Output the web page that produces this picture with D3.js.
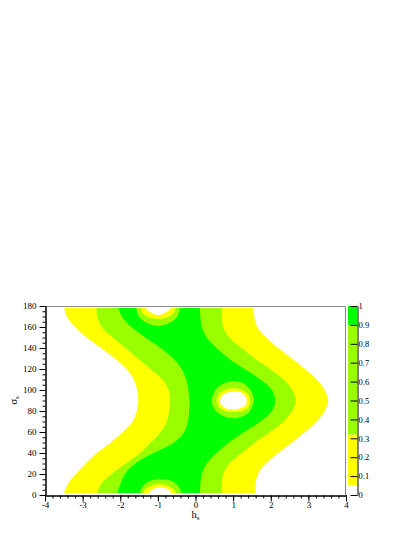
<!DOCTYPE html>
<html>
<head>
<meta charset="utf-8">
<script src="https://cdn.jsdelivr.net/npm/d3@7"></script>
<style>
  body { margin: 0; background: #fff; }
  text { font-family: "Liberation Serif", "DejaVu Serif", serif; }
</style>
</head>
<body>
<div id="chart"></div>
<script>
// Tick labels and contour levels
const hTicks = [-4, -3, -2, -1, 0, 1, 2, 3, 4];
const sigmaTicks = [0, 20, 40, 60, 80, 100, 120, 140, 160, 180];
const levelTicks = [0, 0.1, 0.2, 0.3, 0.4, 0.5, 0.6, 0.7, 0.8, 0.9, 1];
const levels = [0, 0.05, 0.32, 0.9, 1];
const levelColors = ["#ffffff", "#ffff00", "#99ff00", "#00ff00"];

// Contour edges: h value of each level line at each sigma row
const sigmaRows   = [2, 10, 20, 30, 40, 50, 60, 70, 80, 90, 100, 110, 120, 130, 140, 150, 160, 170, 178];
const edge005Left = [-3.49, -3.40, -3.18, -2.92, -2.62, -2.25, -1.93, -1.67, -1.56, -1.52, -1.55, -1.64, -1.83, -2.14, -2.51, -2.89, -3.20, -3.42, -3.49];
const edge005Right = [1.60, 1.60, 1.66, 1.87, 2.20, 2.56, 2.91, 3.22, 3.43, 3.53, 3.43, 3.22, 2.91, 2.56, 2.20, 1.87, 1.64, 1.56, 1.54];
const edge032Left = [-2.61, -2.52, -2.23, -1.85, -1.47, -1.19, -0.92, -0.76, -0.70, -0.68, -0.71, -0.88, -1.20, -1.53, -1.86, -2.20, -2.49, -2.61, -2.63];
const edge032Right = [0.70, 0.70, 0.74, 0.90, 1.23, 1.58, 1.98, 2.34, 2.57, 2.67, 2.57, 2.34, 1.98, 1.58, 1.23, 0.90, 0.74, 0.70, 0.70];
const edge09Left  = [-2.08, -2.00, -1.88, -1.60, -1.12, -0.57, -0.30, -0.20, -0.17, -0.16, -0.19, -0.25, -0.37, -0.59, -0.93, -1.33, -1.70, -1.96, -2.05];
const edge09Right = [0.12, 0.13, 0.17, 0.30, 0.56, 0.89, 1.30, 1.73, 2.03, 2.12, 2.03, 1.73, 1.30, 0.89, 0.56, 0.30, 0.17, 0.13, 0.12];

// Dips below the top level: [h, sigma] outlines (parts outside the data area get clipped)
const holeTop032 = [[-1.58, 180], [-1.53, 172], [-1.35, 165], [-1.0, 161], [-0.66, 164.5], [-0.47, 171], [-0.41, 180], [-0.47, 189], [-1.0, 199], [-1.53, 189]];
const holeTop005 = [[-1.47, 180], [-1.40, 173], [-1.22, 169], [-1.0, 167.6], [-0.76, 169], [-0.59, 173], [-0.52, 180], [-0.60, 187], [-1.0, 192], [-1.40, 187]];
const holeTop000 = [[-1.33, 180], [-1.25, 175], [-1.0, 171.4], [-0.74, 175], [-0.63, 180], [-0.74, 185], [-1.0, 189], [-1.25, 185]];
const holeBot032 = [[-1.49, 0], [-1.40, 8], [-1.20, 13.5], [-0.93, 15], [-0.65, 13.5], [-0.45, 8], [-0.37, 0], [-0.45, -8], [-0.93, -15], [-1.40, -8]];
const holeBot005 = [[-1.40, 0], [-1.30, 6.5], [-0.95, 10.5], [-0.62, 6.5], [-0.50, 0], [-0.62, -6], [-0.95, -10], [-1.30, -6]];
const holeBot000 = [[-1.26, 0], [-1.15, 5], [-0.94, 7.3], [-0.72, 5], [-0.63, 0], [-0.72, -5], [-0.94, -7], [-1.15, -5]];
const holeMid032 = [[0.43, 89], [0.55, 101], [0.80, 107], [1.05, 108.3], [1.33, 105], [1.52, 96], [1.54, 88], [1.40, 78], [1.10, 73.3], [0.75, 75], [0.52, 81]];
const holeMid005 = [[0.56, 90], [0.68, 98], [0.95, 101.6], [1.25, 100], [1.43, 94], [1.43, 85], [1.25, 80], [0.95, 79.3], [0.68, 82]];
const holeMid000 = [[0.65, 90], [0.74, 96], [0.98, 98.4], [1.24, 97], [1.36, 91], [1.32, 85], [1.10, 81.6], [0.85, 82], [0.70, 85]];

const width = 415, height = 537;
const plot = { left: 45, right: 346, top: 306, bottom: 495 };
const serif = "'Liberation Serif', 'DejaVu Serif', serif";

const svg = d3.select("#chart").append("svg")
  .attr("width", width)
  .attr("height", height);

const x = d3.scaleLinear().domain([-4, 4]).range([plot.left, plot.right]);
const y = d3.scaleLinear().domain([0, 180]).range([plot.bottom, plot.top]);

// clip the filled contours to the sampled sigma range
svg.append("clipPath").attr("id", "data-clip")
  .append("rect")
  .attr("x", x(-4)).attr("y", y(sigmaRows[sigmaRows.length - 1]))
  .attr("width", x(4) - x(-4))
  .attr("height", y(sigmaRows[0]) - y(sigmaRows[sigmaRows.length - 1]));

const fills = svg.append("g").attr("clip-path", "url(#data-clip)");

const band = (left, right) => d3.area()
  .y((d, i) => y(sigmaRows[i]))
  .x0((d, i) => x(left[i]))
  .x1((d, i) => x(right[i]))
  .curve(d3.curveCatmullRom)(sigmaRows);

fills.append("path").attr("d", band(edge005Left, edge005Right)).attr("fill", levelColors[1]);
fills.append("path").attr("d", band(edge032Left, edge032Right)).attr("fill", levelColors[2]);
fills.append("path").attr("d", band(edge09Left, edge09Right)).attr("fill", levelColors[3]);

const ring = d3.line()
  .x(d => x(d[0]))
  .y(d => y(d[1]))
  .curve(d3.curveCatmullRomClosed);

[[holeTop032, holeTop005, holeTop000], [holeBot032, holeBot005, holeBot000], [holeMid032, holeMid005, holeMid000]]
  .forEach(set => {
    fills.append("path").attr("d", ring(set[0])).attr("fill", levelColors[2]);
    fills.append("path").attr("d", ring(set[1])).attr("fill", levelColors[1]);
    fills.append("path").attr("d", ring(set[2])).attr("fill", levelColors[0]);
  });

// frame on top and right
svg.append("path")
  .attr("d", `M${plot.left},${plot.top + 0.5}H${plot.right - 0.5}V${plot.bottom}`)
  .attr("fill", "none")
  .attr("stroke", "#888")
  .attr("stroke-width", 1);

// x axis: minor then major ticks
const xAxisG = svg.append("g").attr("transform", `translate(0,${plot.bottom + 0.5})`);
xAxisG.append("g").call(d3.axisBottom(x).ticks(40).tickSize(3).tickSizeOuter(0).tickFormat(""));
xAxisG.append("g").call(d3.axisBottom(x).tickValues(hTicks).tickSize(6).tickSizeOuter(0).tickPadding(0).tickFormat(d => String(d)));

const yAxisG = svg.append("g").attr("transform", `translate(${plot.left + 0.5},0)`);
yAxisG.append("g").call(d3.axisLeft(y).ticks(36).tickSize(3).tickSizeOuter(0).tickFormat(""));
yAxisG.append("g").call(d3.axisLeft(y).tickValues(sigmaTicks).tickSize(6).tickSizeOuter(0).tickPadding(3).tickFormat(d => String(d)));

svg.selectAll("g").attr("font-family", serif);
svg.selectAll(".tick text").attr("font-size", 9).attr("fill", "#000").style("font-family", serif);
svg.selectAll(".domain, .tick line").attr("stroke", "#000");

// axis titles
const xTitle = svg.append("text")
  .attr("x", x(0))
  .attr("y", 518)
  .attr("text-anchor", "middle")
  .attr("font-size", 10.5);
xTitle.append("tspan").text("h");
xTitle.append("tspan").attr("font-size", 7).attr("dy", 2).text("s");

const yTitle = svg.append("text")
  .attr("transform", `translate(17,${y(90)}) rotate(-90)`)
  .attr("text-anchor", "middle")
  .attr("font-size", 11);
yTitle.append("tspan").text("σ");
yTitle.append("tspan").attr("font-size", 7).attr("dy", 2).text("s");

// colour scale
const bar = { x: 348, w: 9 };
const c = d3.scaleLinear().domain([0, 1]).range([plot.bottom, plot.top]);

svg.append("g").selectAll("rect")
  .data(levelColors)
  .enter()
  .append("rect")
  .attr("x", bar.x)
  .attr("y", (d, i) => c(levels[i + 1]))
  .attr("width", bar.w)
  .attr("height", (d, i) => c(levels[i]) - c(levels[i + 1]))
  .attr("fill", d => d);

const barAxis = svg.append("g")
  .attr("transform", `translate(${bar.x + bar.w + 0.5},0)`)
  .call(d3.axisRight(c).tickValues(levelTicks).tickSize(-7).tickSizeOuter(0).tickPadding(1).tickFormat(d => String(d)));
barAxis.attr("font-family", serif);
barAxis.selectAll("text").attr("font-size", 8.5).attr("fill", "#000").style("font-family", serif);
barAxis.selectAll(".domain, .tick line").attr("stroke", "#000");
</script>
</body>
</html>
